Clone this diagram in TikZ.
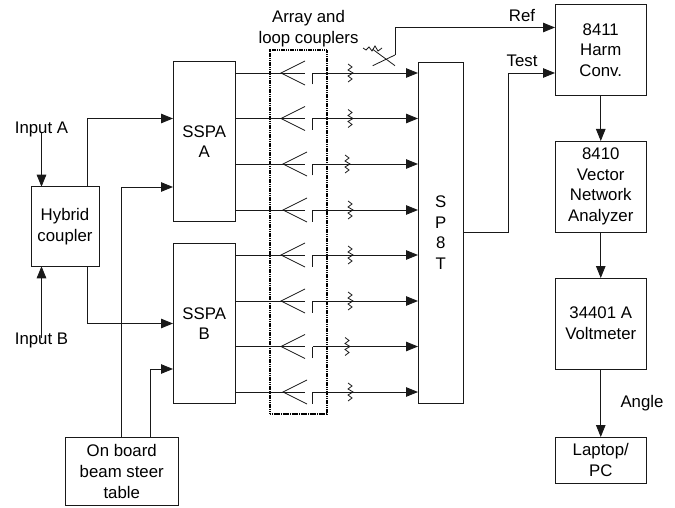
\documentclass[tikz,border=0pt]{standalone}
\usepackage{fontspec}
\setmainfont{Liberation Sans}
\usetikzlibrary{arrows.meta,calc}
\tikzset{
  x=1pt,y=-1pt,
  wire/.style={line width=0.9pt,draw=black!90,line join=miter},
  arr/.style={wire,-{Triangle[length=12pt,width=9.5pt]}},
  txt/.style={font=\fontsize{16.8}{20.6}\selectfont,align=center,inner sep=0pt,text=black},
  box/.style={txt,draw=black!90,line width=0.9pt,fill=none,outer sep=0pt},
  dotbox/.style={draw=black,line width=1.6pt,dash pattern=on 1.3pt off 0.5pt},
  thin part/.style={line width=0.8pt,draw=black!90}
}
\begin{document}
\begin{tikzpicture}
\useasboundingbox (0,0) rectangle (675,508);
% boxes
\node[box,minimum width=68pt,minimum height=79.5pt] (hyb) at (65,226.5) {Hybrid\\coupler};
\node[box,minimum width=62.5pt,minimum height=159.5pt] (ssa) at (204.25,141.5) {SSPA\\A};
\node[box,minimum width=62.5pt,minimum height=159.5pt] (ssb) at (204.25,323.5) {SSPA\\B};
\node[box,minimum width=45.5pt,minimum height=341pt] (sp) at (440.75,232.5) {S\\P\\8\\T};
\node[box,minimum width=91.5pt,minimum height=91pt] (harm) at (600.75,50) {8411\\Harm\\Conv.};
\node[box,minimum width=91.5pt,minimum height=91pt] (vna) at (600.75,186.5) {8410\\Vector\\Network\\Analyzer};
\node[box,minimum width=91.5pt,minimum height=91pt] (volt) at (600.75,323.5) {34401 A\\Voltmeter};
\node[box,minimum width=91.5pt,minimum height=46pt] (pc) at (600.75,460) {Laptop/\\PC};
\node[box,minimum width=113.5pt,minimum height=68pt] (tab) at (121.75,471.5) {On board\\beam steer\\table};
\node[dotbox,minimum width=57pt,minimum height=364pt,inner sep=0pt] (arrbox) at (298.5,232) {};
% labels
\node[txt] (inA) at (41.5,129) {Input A};
\node[txt] (inB) at (41.5,340) {Input B};
\node[txt] (lab) at (308.5,28.5) {Array and\\loop couplers};
\node[txt] (ref) at (522,16) {Ref};
\node[txt] (test) at (522,61) {Test};
\node[txt] (ang) at (642,403) {Angle};
% helper coordinates
\coordinate (h1) at (87.5,118.5);
\coordinate (h2) at (87.5,323.5);
\coordinate (b1) at (121.5,187);
\coordinate (b2) at (150.5,369);
\coordinate (o1) at (508.5,232);
\coordinate (o2) at (508.5,73);
\coordinate (xa) at (395,55);
\coordinate (xb) at (395,65.7);
\coordinate (xc) at (372.7,49.3);
\coordinate (xd) at (372.7,65.7);
\coordinate (rr) at (395,27.5);
% left side
\draw[arr] ([yshift=4pt]inA.south) -- (inA.south |- hyb.north);
\draw[arr] ([yshift=-6pt]inB.north) -- (inB.north |- hyb.south);
\draw[arr] (hyb.north -| h1) -- (h1) -- (ssa.west |- h1);
\draw[arr] (hyb.south -| h2) -- (h2) -- (ssb.west |- h2);
\draw[arr] (tab.north -| b1) -- (b1) -- (ssa.west |- b1);
\draw[arr] (tab.north -| b2) -- (b2) -- (ssb.west |- b2);
% channels
\foreach \i/\y/\src/\ax/\sq in {1/73/ssa/281/350,2/118.5/ssa/281/350,3/164/ssa/283/347,4/210/ssa/283/350,5/255/ssb/281/350,6/301/ssb/281/350,7/346.5/ssb/281/347,8/392/ssb/283/350}{
  \coordinate (ch\i) at (0,\y);
  \coordinate (ap\i) at (\ax,\y);
  \coordinate (lp\i) at (312.5,\y);
  \draw[wire] (\src.east |- ch\i) -- (305,\y);
  \draw[thin part] ($(ap\i)+(24,-12)$) -- (ap\i) -- ($(ap\i)+(24,12)$);
  \draw[thin part] ($(lp\i)+(0,11.5)$) -- (lp\i);
  \draw[arr] (lp\i) -- (sp.west |- ch\i);
  \draw[thin part] (\sq-2,\y-9) -- (\sq+2,\y-6) -- (\sq-2,\y-3) -- (\sq+3,\y) -- (\sq-2,\y+3) -- (\sq+2,\y+6) -- (\sq-2,\y+9);
}
% reference coupler
\draw[thin part] (xc) -- (xb);
\draw[thin part] (xd) -- (xa);
\draw[thin part] (363,48) -- (366,50) -- (369,47) -- (372,51) -- (375,46) -- (378,51) -- (382,48);
\draw[arr] (xa) -- (rr) -- (harm.west |- rr);
% right side
\draw[wire,-] (sp.east |- o1) -- (o1) -- (o2);
\draw[arr] (o2) -- (harm.west |- o2);
\draw[arr] (harm.south) -- (vna.north);
\draw[arr] (vna.south) -- (volt.north);
\draw[arr] (volt.south) -- (pc.north);
\end{tikzpicture}
\end{document}
